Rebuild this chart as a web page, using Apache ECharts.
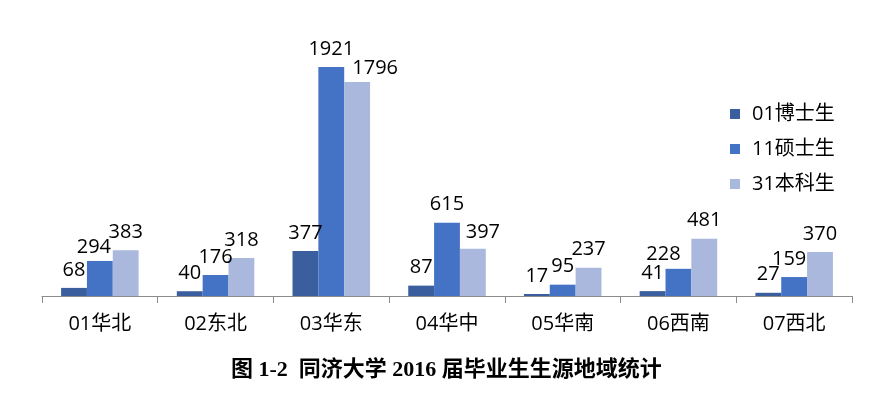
<!DOCTYPE html>
<html>
<head>
<meta charset="utf-8">
<script src="https://cdn.jsdelivr.net/npm/echarts@6/dist/echarts.min.js"></script>
<style>
html,body{margin:0;padding:0;background:#fff;}
#chart{width:870px;height:408px;}
</style>
</head>
<body>
<div id="chart"></div>
<script>
var categories = ['01华北','02东北','03华东','04华中','05华南','06西南','07西北'];
var seriesNames = ['01博士生','11硕士生','31本科生'];
var doctor = [68, 40, 377, 87, 17, 41, 27];
var master = [294, 176, 1921, 615, 95, 228, 159];
var bachelor = [383, 318, 1796, 397, 237, 481, 370];
var colors = ['#3A5E9E', '#4472C4', '#A9B8DC'];
var titleText = '图 1-2  同济大学 2016 届毕业生生源地域统计';

// manual label nudges as in the original (series index -> category index -> [dx, dy])
var labelNudge = {1: {0: [-6, 4], 5: [-15, 3], 6: [-5, 0]}, 2: {2: [18, 4], 3: [10, 2]}};

var fontSans = '"Open Sans", "Noto Sans CJK SC", sans-serif';
var chart = echarts.init(document.getElementById('chart'));
function mk(idx, data) {
  var nudges = labelNudge[idx] || {};
  return {
    name: seriesNames[idx], type: 'bar', barGap: '0%', barCategoryGap: '33%',
    data: data.map(function (v, i) {
      var item = {value: v};
      if (nudges[i]) item.label = {offset: nudges[i]};
      return item;
    }),
    itemStyle: {color: colors[idx]},
    label: {show: true, position: 'top', distance: 8, color: '#000', fontSize: 20, fontFamily: fontSans},
    emphasis: {disabled: true}
  };
}
chart.setOption({
  animation: false,
  title: {
    text: titleText, left: 226, top: 354,
    textStyle: {fontFamily: '"Liberation Serif", "Noto Sans CJK SC", serif', fontWeight: 'bold', fontSize: 22, color: '#000'}
  },
  legend: {
    orient: 'vertical', left: 725, top: 99, itemGap: 15,
    itemWidth: 10, itemHeight: 10, icon: 'rect',
    textStyle: {fontSize: 20, fontFamily: fontSans, color: '#000', padding: [0, 0, 0, 7]},
    data: seriesNames
  },
  grid: {left: 42, right: 18, top: 57.6, bottom: 112, containLabel: false},
  xAxis: {
    type: 'category', data: categories,
    axisLine: {lineStyle: {color: '#8C8C8C', width: 1}},
    axisTick: {show: true, alignWithLabel: false, length: 7, lineStyle: {color: '#8C8C8C'}},
    axisLabel: {fontSize: 20, color: '#000', fontFamily: fontSans, margin: 18}
  },
  yAxis: {type: 'value', min: 0, max: 2000, show: false, splitLine: {show: false}},
  series: [mk(0, doctor), mk(1, master), mk(2, bachelor)]
});
</script>
</body>
</html>
